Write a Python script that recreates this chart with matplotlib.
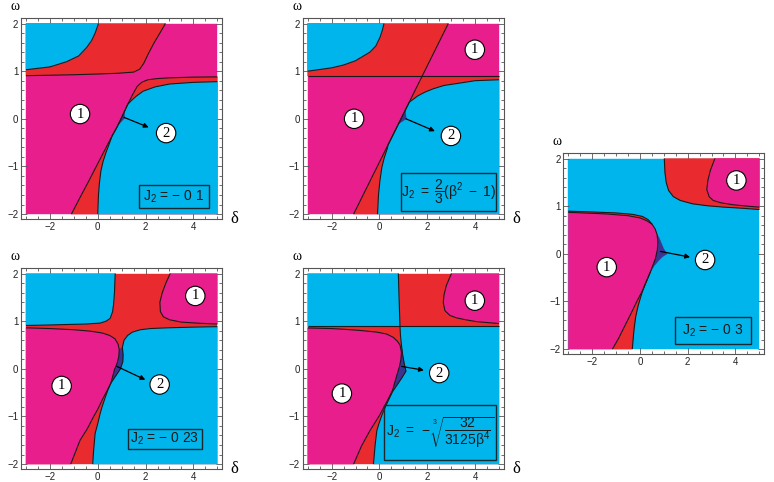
import numpy as np
import matplotlib
matplotlib.use("Agg")
import matplotlib.pyplot as plt
from matplotlib.patches import Polygon, Rectangle
from matplotlib.ticker import MultipleLocator

plt.rcParams["mathtext.fontset"] = "custom"
plt.rcParams["mathtext.rm"] = "Liberation Sans"
plt.rcParams["mathtext.it"] = "Liberation Sans:italic"
plt.rcParams["mathtext.sf"] = "Liberation Sans"
plt.rcParams["mathtext.bf"] = "Liberation Sans:bold"

CYAN = "#00B5EC"
RED = "#E92A2E"
MAG = "#E81E8C"
BLUE = "#3B3591"
LINE = "#1a1a1a"

# data domain of every region plot
X0, X1, Y0, Y1 = -3.0, 5.0, -2.0, 2.0
XTICKS = [-2, 0, 2, 4]
YTICKS = [-2, -1, 0, 1, 2]

# ---------------- Panel 1 : J2 = -0.1 ----------------
P1_C1 = [(-3, 1.03), (-2, 1.09), (-1.3, 1.2), (-0.8, 1.32), (-0.46, 1.5), (-0.25, 1.65), (-0.11, 1.8), (0.03, 2.0)]
P1_C2 = [(-3, 0.905), (-2, 0.915), (-1, 0.925), (0, 0.94), (0.8, 0.955), (1.5, 0.98), (1.75, 1.04), (1.92, 1.16),
         (2.1, 1.35), (2.34, 1.58), (2.6, 1.8), (2.83, 2.0)]
P1_C3 = [(5, 0.88), (4, 0.875), (3, 0.86), (2.5, 0.845), (2.1, 0.82), (1.85, 0.77), (1.65, 0.68), (1.45, 0.5),
         (1.25, 0.3), (1.05, 0.08), (0.8, -0.18), (0.6, -0.36), (0.3, -0.65), (0.0, -0.94), (-0.4, -1.33),
         (-0.75, -1.66), (-1.1, -2.0)]
P1_C4 = [(5, 0.78), (4, 0.765), (3, 0.73), (2.4, 0.67), (1.9, 0.58), (1.6, 0.47), (1.4, 0.38), (1.25, 0.3),
         (1.05, 0.08), (0.8, -0.18), (0.6, -0.36), (0.5, -0.5), (0.35, -0.7), (0.22, -0.9), (0.13, -1.1),
         (0.07, -1.35), (0.03, -1.6), (0.0, -2.0)]
P1_BLUE = [(0.88, -0.12), (1.1, 0.15), (1.13, 0.02)]
P1_CIRCLES = [("1", -0.74, 0.1), ("2", 2.86, -0.3)]
P1_ARROW = [(1.1, 0.03), (2.13, -0.18)]
P1_LEGEND = [(1.71, -1.87), (4.65, -1.39)]
P1_TEXT = "J$_2$ = \u2212 0 1"

# ---------------- Panel 2 : J2 = 2/3 (beta^2 - 1) ----------------
P2_C1 = [(-3, 1.0), (-2, 1.07), (-1.5, 1.13), (-1, 1.22), (-0.4, 1.4), (-0.15, 1.53), (0.03, 1.72), (0.12, 1.86), (0.19, 2.0)]
P2_H = 0.9
P2_L = [(-1.08, -2.0), (2.88, 2.0)]
P2_C4 = [(5, 0.82), (4, 0.8), (3.36, 0.75), (2.7, 0.7), (2.25, 0.63), (1.9, 0.56), (1.6, 0.48), (1.25, 0.35),
         (0.36, -0.55), (0.33, -0.62), (0.2, -0.82), (0.1, -1.02), (0.02, -1.3), (-0.04, -1.6), (-0.08, -2.0)]
P2_BLUE = [(0.82, -0.1), (1.09, 0.17), (1.12, 0.0)]
P2_CIRCLES = [("1", -1.06, 0.0), ("1", 3.99, 1.45), ("2", 2.99, -0.36)]
P2_ARROW = [(1.11, 0.0), (2.32, -0.26)]
P2_LEGEND = [(0.89, -1.94), (4.86, -1.14)]
P2_TEXT = r"$\mathrm{J}_2\ =\ \dfrac{2}{3}(\mathrm{\beta}^2\ -\ 1)$"

# ---------------- Panel 3 : J2 = -0.23 ----------------
P3_C1 = [(-3, 0.91), (-2, 0.92), (-1.3, 0.93), (-0.5, 0.94), (0.1, 0.96), (0.35, 1.0), (0.52, 1.06), (0.62, 1.2),
         (0.66, 1.35), (0.7, 1.6), (0.73, 2.0)]
P3_M1 = [(3.03, 2.0), (2.85, 1.8), (2.7, 1.6), (2.6, 1.4), (2.62, 1.2), (2.75, 1.09), (3.0, 1.03), (3.5, 0.98),
         (4.3, 0.955), (5, 0.94)]
P3_CY = [(5, 0.885), (4, 0.875), (2.9, 0.86), (2.2, 0.845), (1.78, 0.82), (1.45, 0.77), (1.25, 0.7), (1.1, 0.6),
         (1.03, 0.45), (1.06, 0.3), (1.05, 0.15), (0.95, 0.0), (0.75, -0.15), (0.55, -0.3), (0.42, -0.45),
         (0.3, -0.62), (0.18, -0.8), (0.1, -0.94), (0.0, -1.15), (-0.11, -1.36), (-0.17, -1.7), (-0.21, -2.0)]
P3_ML = [(-3, 0.86), (-2, 0.845), (-1, 0.82), (-0.3, 0.79), (0.2, 0.75), (0.5, 0.7), (0.72, 0.63), (0.85, 0.52),
         (0.9, 0.4), (0.88, 0.25), (0.8, 0.1), (0.7, -0.02), (0.55, -0.3), (0.4, -0.45), (0.22, -0.62), (0.0, -0.85),
         (-0.18, -1.01), (-0.45, -1.27), (-0.74, -1.5), (-1.13, -2.0)]
P3_BLUE = [(0.9, 0.4), (0.88, 0.25), (0.8, 0.1), (0.7, -0.02), (0.55, -0.3), (0.75, -0.15), (0.95, 0.0),
           (1.05, 0.15), (1.06, 0.3), (1.03, 0.45)]
P3_CIRCLES = [("1", 4.08, 1.53), ("1", -1.51, -0.36), ("2", 2.59, -0.33)]
P3_ARROW = [(0.8, 0.05), (1.99, -0.23)]
P3_LEGEND = [(1.26, -1.69), (4.34, -1.27)]
P3_TEXT = "J$_2$ = \u2212 0 23"

# ---------------- Panel 4 : J2 = -(32/(3125 beta^4))^(1/3) ----------------
P4_H = 0.89
P4_V = [(0.79, 2.0), (0.82, 1.5), (0.86, 0.89)]
P4_M1 = [(3.01, 2.0), (2.8, 1.75), (2.7, 1.55), (2.67, 1.39), (2.74, 1.22), (2.95, 1.12), (3.22, 1.07), (3.6, 1.03),
         (4.06, 0.99), (5, 0.95)]
P4_CY = [(0.86, 0.89), (0.88, 0.7), (0.92, 0.5), (0.97, 0.3), (1.04, 0.1), (1.11, -0.05), (0.95, -0.18),
         (0.75, -0.33), (0.55, -0.48), (0.31, -0.73), (0.12, -0.95), (-0.02, -1.15), (-0.11, -1.3), (-0.18, -1.6),
         (-0.25, -2.0)]
P4_ML = [(-3, 0.857), (-2, 0.845), (-1.5, 0.83), (-0.8, 0.805), (-0.11, 0.77), (0.3, 0.73), (0.58, 0.66), (0.75, 0.58),
         (0.86, 0.5), (0.92, 0.35), (0.9, 0.2), (0.84, 0.05), (0.72, -0.15), (0.55, -0.45), (0.3, -0.7), (0.0, -0.98),
         (-0.4, -1.3), (-0.75, -1.62), (-1.08, -2.0)]
P4_BLUE = [(0.92, 0.42), (0.92, 0.35), (0.9, 0.2), (0.84, 0.05), (0.72, -0.15), (0.55, -0.45), (0.75, -0.33),
           (0.95, -0.18), (1.11, -0.05), (1.04, 0.1), (0.97, 0.3), (0.94, 0.42)]
P4_CIRCLES = [("1", 3.99, 1.43), ("1", -1.57, -0.52), ("2", 2.5, -0.09)]
P4_ARROW = [(0.93, 0.05), (1.86, -0.03)]
P4_LEGEND = [(0.21, -1.92), (4.86, -0.75)]
P4_TEXT = r"$\mathrm{J}_2\ =\ -\sqrt[3]{\dfrac{32}{3125\mathrm{\beta}^4}}$"

# ---------------- Panel 5 : J2 = -0.3 ----------------
P5_R1 = [(1.02, 2.0), (1.05, 1.7), (1.1, 1.5), (1.2, 1.33), (1.4, 1.2), (1.69, 1.12), (2.2, 1.05), (2.8, 1.01),
         (3.5, 0.98), (4.18, 0.96), (5, 0.93)]
P5_M1 = [(3.14, 2.0), (2.95, 1.75), (2.85, 1.55), (2.8, 1.35), (2.9, 1.2), (3.07, 1.12), (3.4, 1.07), (3.9, 1.03),
         (4.5, 1.0), (5, 0.98)]
P5_SLIVER = [(-3, 0.895), (-2, 0.878), (-1, 0.858), (-0.3, 0.828), (0.1, 0.785), (0.35, 0.715), (0.51, 0.62)]
P5_ML = [(-3, 0.87), (-2, 0.85), (-1.36, 0.835), (-0.5, 0.8), (0.03, 0.75), (0.3, 0.69), (0.51, 0.62), (0.64, 0.52),
         (0.72, 0.4), (0.75, 0.25), (0.73, 0.08), (0.65, -0.1), (0.5, -0.3), (0.44, -0.38), (0.3, -0.55), (0.1, -0.78),
         (-0.11, -0.98), (-0.4, -1.28), (-0.66, -1.54), (-0.9, -1.78), (-1.15, -2.0)]
P5_CB = [(0.44, -0.38), (0.25, -0.6), (0.1, -0.8), (0.03, -0.91), (-0.08, -1.1), (-0.18, -1.33), (-0.25, -1.6),
         (-0.32, -2.0)]
P5_BLUE = [(0.72, 0.4), (0.75, 0.25), (0.73, 0.08), (0.65, -0.1), (0.5, -0.3), (0.44, -0.38), (0.6, -0.25),
           (0.79, -0.14), (0.95, -0.06), (1.14, 0.0), (1.0, 0.1), (0.9, 0.22), (0.8, 0.34)]
P5_CIRCLES = [("1", 4.04, 1.54), ("1", -1.39, -0.28), ("2", 2.73, -0.13)]
P5_ARROW = [(0.86, 0.05), (2.1, -0.07)]
P5_LEGEND = [(1.45, -1.9), (4.67, -1.33)]
P5_TEXT = "J$_2$ = \u2212 0 3"

TL, TR, BL, BR = (X0, Y1), (X1, Y1), (X0, Y0), (X1, Y0)


def x_on(line, y):
    (xa, ya), (xb, yb) = line
    return xa + (y - ya) * (xb - xa) / (yb - ya)


def seg(pts, start, end):
    i = pts.index(start)
    j = pts.index(end)
    return pts[i:j + 1]


# figure layout (pixels of the 774x482 reference)
W, H = 774, 482
PANEL_BOX = {  # left, top, right, bottom in pixels
    1: (21, 18.3, 222.3, 219.3),
    2: (302.7, 18.3, 504, 219.3),
    3: (21, 268.3, 222.3, 469.3),
    4: (302.7, 268.3, 504, 469.3),
    5: (563.3, 153.3, 764.3, 354.3),
}

fig = plt.figure(figsize=(W / 100, H / 100), dpi=100)


def make_ax(k):
    l, t, r, b = PANEL_BOX[k]
    ax = fig.add_axes([l / W, 1 - b / H, (r - l) / W, (b - t) / H])
    ax.set_xlim(-3.21, 5.21)
    ax.set_ylim(-2.11, 2.11)
    ax.set_xticks(XTICKS)
    ax.set_yticks(YTICKS)
    ax.xaxis.set_minor_locator(MultipleLocator(0.5))
    ax.yaxis.set_minor_locator(MultipleLocator(0.2))
    ax.tick_params(which="both", direction="in", top=True, right=True, colors="#555555",
                   labelcolor="#222222", labelsize=7, width=0.6, pad=2)
    ax.tick_params(which="major", length=4)
    ax.tick_params(which="minor", length=2)
    for lab in ax.get_xticklabels() + ax.get_yticklabels():
        lab.set_family("Liberation Sans")
    for s in ax.spines.values():
        s.set_color("#555555")
        s.set_linewidth(0.8)
    return ax


def draw(ax, base, fills, lines, circles, arrow, legend, text, fs, dlabel):
    ax.add_patch(Rectangle((X0, Y0), X1 - X0, Y1 - Y0, fc=base, ec=base, lw=0.3, zorder=1))
    for pts, color in fills:
        ax.add_patch(Polygon(pts, closed=True, fc=color, ec=color, lw=0.3, zorder=2))
    for pts in lines:
        xs, ys = zip(*pts)
        ax.plot(xs, ys, color=LINE, lw=0.8, zorder=3, solid_capstyle="butt")
    (tx, ty), (hx, hy) = arrow
    ax.annotate("", xy=(hx, hy), xytext=(tx, ty),
                arrowprops=dict(arrowstyle="-|>", color="black", lw=0.9, mutation_scale=7,
                                shrinkA=0, shrinkB=0), zorder=6)
    for s, cx, cy in circles:
        ax.text(cx, cy, s, ha="center", va="center", fontsize=10.5, family="Liberation Serif",
                bbox=dict(boxstyle="circle,pad=0.22", fc="white", ec="black", lw=0.8), zorder=7)
    (lx0, ly0), (lx1, ly1) = legend
    ax.add_patch(Rectangle((lx0, ly0), lx1 - lx0, ly1 - ly0, fill=False, ec="#1c2a30", lw=1.0, zorder=6))
    ax.text((lx0 + lx1) / 2, (ly0 + ly1) / 2, text, ha="center", va="center", fontsize=fs,
            color="#1a1a1a", family="Liberation Sans", zorder=7)
    ax.text(-0.03, 1.06, "\u03c9", transform=ax.transAxes, ha="center", va="center",
            fontsize=10, family="Liberation Serif")
    if dlabel:
        ax.text(1.06, 0.0, "\u03b4", transform=ax.transAxes, ha="center", va="center",
                fontsize=12, family="Liberation Serif")


# ---- panel 1
ax = make_ax(1)
draw(ax, MAG,
     [(P1_C3 + [BR], RED), (P1_C4 + [BR], CYAN), (P1_C2 + [TL], RED), (P1_C1 + [TL], CYAN), (P1_BLUE, BLUE)],
     [P1_C1, P1_C2, P1_C3, P1_C4],
     P1_CIRCLES, P1_ARROW, P1_LEGEND, P1_TEXT, 10, True)

# ---- panel 2
ax = make_ax(2)
xh = x_on(P2_L, P2_H)
xt = x_on(P2_L, Y1)
xb = x_on(P2_L, Y0)
draw(ax, MAG,
     [([(xh, P2_H), (xb, Y0), BR, (X1, P2_H)], RED),
      ([(X0, P2_H), (xh, P2_H), (xt, Y1), TL], RED),
      (P2_C4 + [BR], CYAN), (P2_C1 + [TL], CYAN), (P2_BLUE, BLUE)],
     [P2_C1, [(X0, P2_H), (X1, P2_H)], [(xb, Y0), (xt, Y1)], P2_C4],
     P2_CIRCLES, P2_ARROW, P2_LEGEND, P2_TEXT, 10, True)

# ---- panel 3
ax = make_ax(3)
draw(ax, RED,
     [(P3_C1 + [TL], CYAN), (P3_M1 + [TR], MAG), (P3_CY + [BR], CYAN), (P3_ML + [BL], MAG), (P3_BLUE, BLUE)],
     [P3_C1, P3_M1, P3_CY, P3_ML],
     P3_CIRCLES, P3_ARROW, P3_LEGEND, P3_TEXT, 10, True)

# ---- panel 4
ax = make_ax(4)
draw(ax, RED,
     [([TL] + P4_V + [(X0, P4_H)], CYAN), (P4_M1 + [TR], MAG),
      ([(X1, P4_H)] + P4_CY + [BR], CYAN), (P4_ML + [BL], MAG), (P4_BLUE, BLUE)],
     [[(X0, P4_H), (X1, P4_H)], P4_V, P4_M1, P4_CY, P4_ML],
     P4_CIRCLES, P4_ARROW, P4_LEGEND, P4_TEXT, 10, True)

# ---- panel 5
ax = make_ax(5)
wedge = seg(P5_ML, (0.44, -0.38), (-1.15, -2.0)) + P5_CB[::-1]
sliver = P5_SLIVER + seg(P5_ML, (-3, 0.87), (0.51, 0.62))[::-1]
draw(ax, CYAN,
     [(P5_R1 + [TR], RED), (P5_M1 + [TR], MAG), (P5_ML + [BL], MAG), (sliver, RED), (wedge, RED), (P5_BLUE, BLUE)],
     [P5_R1, P5_M1, P5_SLIVER, P5_ML, P5_CB],
     P5_CIRCLES, P5_ARROW, P5_LEGEND, P5_TEXT, 10, False)

fig.savefig("out.png", dpi=100)
